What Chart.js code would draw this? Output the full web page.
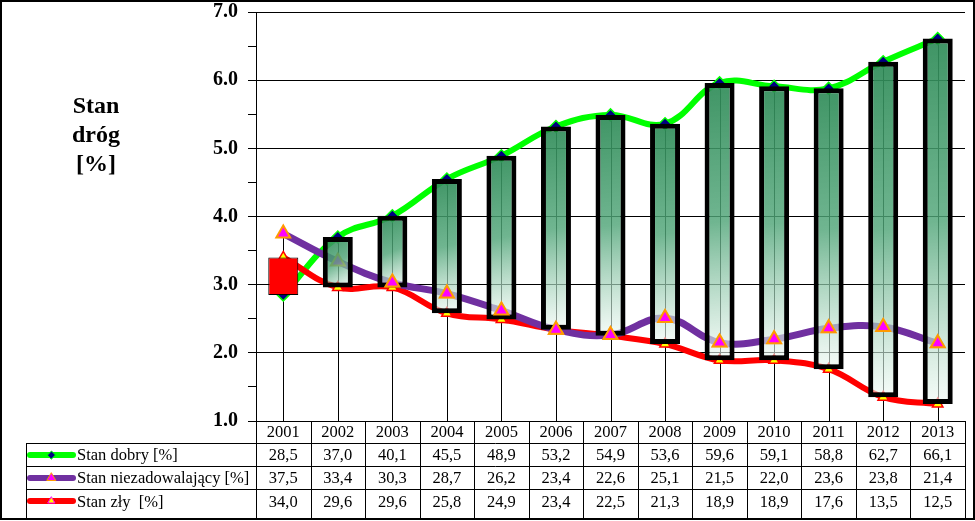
<!DOCTYPE html>
<html>
<head>
<meta charset="utf-8">
<script src="https://cdn.jsdelivr.net/npm/chart.js@4"></script>
<style>
  body { margin: 0; background: #fff; }
  canvas { display: block; }
</style>
</head>
<body>
<canvas id="roadChart" width="975" height="521"></canvas>
<script>
const years = ['2001','2002','2003','2004','2005','2006','2007','2008','2009','2010','2011','2012','2013']
const dobry = [28.5,37.0,40.1,45.5,48.9,53.2,54.9,53.6,59.6,59.1,58.8,62.7,66.1]
const niezad = [37.5,33.4,30.3,28.7,26.2,23.4,22.6,25.1,21.5,22.0,23.6,23.8,21.4]
const zly = [34.0,29.6,29.6,25.8,24.9,23.4,22.5,21.3,18.9,18.9,17.6,13.5,12.5]
const seriesNames = ['Stan dobry [%]', 'Stan niezadowalający [%]', 'Stan zły  [%]']

const serif = '"Liberation Serif", "Times New Roman", serif'
const toAxis = v => v / 10
const fmt = v => v.toFixed(1).replace('.', ',')

// high-low lines from the top point down to the axis
const dropLines = {
    id: 'dropLines',
    beforeDatasetsDraw(chart) {
        const {ctx, scales: {x, y}, chartArea} = chart
        ctx.save()
        ctx.strokeStyle = '#000'
        ctx.lineWidth = 1
        years.forEach((yr, i) => {
            const top = Math.max(dobry[i], niezad[i], zly[i])
            const px = Math.round(x.getPixelForValue(i)) + 0.5
            ctx.beginPath()
            ctx.moveTo(px, y.getPixelForValue(toAxis(top)))
            ctx.lineTo(px, chartArea.bottom)
            ctx.stroke()
        })
        ctx.restore()
    }
}

// purple triangles show through the pale lower part of the bars
const pointsOnTop = {
    id: 'pointsOnTop',
    afterDatasetsDraw(chart) {
        const {ctx, chartArea} = chart
        const y = chart.scales.y
        chart.getDatasetMeta(2).data.forEach((pt, i) => {
            const top = y.getPixelForValue(toAxis(dobry[i]))
            const bot = y.getPixelForValue(toAxis(zly[i]))
            if (pt.y > top + (bot - top) * 0.7) pt.draw(ctx, chartArea)
        })
    }
}

function drawKey(ctx, x, y, color, style, fill, stroke, r) {
    ctx.save()
    ctx.strokeStyle = color
    ctx.lineWidth = 6
    ctx.lineCap = 'round'
    ctx.beginPath()
    ctx.moveTo(x, y)
    ctx.lineTo(x + 43, y)
    ctx.stroke()
    ctx.fillStyle = fill
    ctx.strokeStyle = stroke
    ctx.lineWidth = 1
    Chart.helpers.drawPoint(ctx, {pointStyle: style, radius: r, borderWidth: 1, rotation: 0},
        x + 21.5, y)
    ctx.restore()
}

// data table, y title and frame
const dataTable = {
    id: 'dataTable',
    afterDraw(chart) {
        const {ctx, scales: {x}, chartArea} = chart
        const left = chartArea.left, right = chartArea.right
        const colW = (right - left) / years.length
        const tblLeft = 26
        const rows = [chartArea.bottom, 443, 466, 488.5, 518]
        ctx.save()
        ctx.strokeStyle = '#000'
        ctx.lineWidth = 1
        ctx.beginPath()
        for (let i = 0; i <= years.length; i++) {
            const px = Math.round(left + i * colW) + 0.5
            ctx.moveTo(px, chartArea.bottom)
            ctx.lineTo(px, rows[4])
        }
        ctx.moveTo(tblLeft + 0.5, rows[1])
        ctx.lineTo(tblLeft + 0.5, rows[4])
        for (let r = 1; r < rows.length; r++) {
            ctx.moveTo(tblLeft, Math.round(rows[r]) + 0.5)
            ctx.lineTo(right, Math.round(rows[r]) + 0.5)
        }
        ctx.stroke()

        ctx.fillStyle = '#000'
        ctx.font = '16.5px ' + serif
        ctx.textAlign = 'center'
        ctx.textBaseline = 'middle'
        years.forEach((yr, i) => {
            const cx = x.getPixelForValue(i)
            ctx.fillText(yr, cx, 433)
            ctx.fillText(fmt(dobry[i]), cx, 456)
            ctx.fillText(fmt(niezad[i]), cx, 479)
            ctx.fillText(fmt(zly[i]), cx, 503)
        })
        ctx.textAlign = 'left'
        ctx.fillText(seriesNames[0], 77, 456)
        ctx.fillText(seriesNames[1], 77, 479)
        ctx.fillText(seriesNames[2], 77, 503)
        drawKey(ctx, 30, 455, '#00FF00', 'rectRot', '#000080', '#00FF00', 4)
        drawKey(ctx, 30, 478, '#7030A0', 'triangle', '#FF00FF', '#FF9900', 5)
        drawKey(ctx, 30, 501, '#FF0000', 'triangle', '#FFFF00', '#FF00FF', 4)

        ctx.font = 'bold 24px ' + serif
        ctx.textAlign = 'center'
        ctx.fillText('Stan', 96, 107)
        ctx.fillText('dróg', 96, 136)
        ctx.fillText('[%]', 96, 165)

        ctx.lineWidth = 2
        ctx.strokeRect(1, 1, 973, 518)
        ctx.restore()
    }
}

function barFill(c) {
    const i = c.dataIndex
    if (dobry[i] < zly[i]) return '#FF0000'
    const chart = c.chart
    if (!chart.chartArea) return 'rgba(46,139,87,0.8)'
    const {x, y} = chart.scales
    const top = y.getPixelForValue(toAxis(dobry[i]))
    const bot = y.getPixelForValue(toAxis(zly[i]))
    const cx = x.getPixelForValue(i)
    const g = chart.ctx.createLinearGradient(cx - 15, top, cx + 15, bot)
    g.addColorStop(0, 'rgba(46,139,87,0.92)')
    g.addColorStop(0.5, 'rgba(80,165,120,0.82)')
    g.addColorStop(1, 'rgba(240,250,245,0.6)')
    return g
}

const ctx = document.getElementById('roadChart')
new Chart(ctx, {
    type: 'bar',
    data: {
        labels: years,
        datasets: [
            {
                type: 'bar',
                label: 'updown',
                data: years.map((yr, i) => [toAxis(zly[i]), toAxis(dobry[i])]),
                backgroundColor: barFill,
                borderColor: '#000',
                borderWidth: c => (dobry[c.dataIndex] < zly[c.dataIndex] ? 1 : 5),
                borderSkipped: false,
                barPercentage: 0.55,
                categoryPercentage: 1,
                order: 0
            },
            {
                type: 'line',
                label: seriesNames[0],
                data: dobry.map(toAxis),
                borderColor: '#00FF00',
                borderWidth: 6,
                tension: 0.4,
                pointStyle: 'rectRot',
                pointRadius: 6,
                pointBackgroundColor: '#000080',
                pointBorderColor: '#00FF00',
                pointBorderWidth: 1.5,
                order: 3
            },
            {
                type: 'line',
                label: seriesNames[1],
                data: niezad.map(toAxis),
                borderColor: '#7030A0',
                borderWidth: 7,
                tension: 0.4,
                pointStyle: 'triangle',
                pointRadius: 8,
                pointBackgroundColor: '#FF00FF',
                pointBorderColor: '#FF9900',
                pointBorderWidth: 2,
                order: 1
            },
            {
                type: 'line',
                label: seriesNames[2],
                data: zly.map(toAxis),
                borderColor: '#FF0000',
                borderWidth: 6,
                tension: 0.4,
                pointStyle: 'triangle',
                pointRadius: 6,
                pointBackgroundColor: '#FFFF00',
                pointBorderColor: '#FF0000',
                pointBorderWidth: 1.5,
                order: 2
            }
        ]
    },
    options: {
        responsive: false,
        animation: false,
        devicePixelRatio: 1,
        layout: { padding: { left: 0, top: 12, right: 3, bottom: 100 } },
        plugins: {
            legend: { display: false },
            tooltip: { enabled: false }
        },
        scales: {
            x: { display: false, offset: true },
            y: {
                min: 1,
                max: 7,
                afterFit: scale => {
                    scale.width = 256
                    scale.paddingTop = 0
                    scale.paddingBottom = 0
                },
                border: { display: true, color: '#000', width: 1 },
                grid: {
                    color: c => (Number.isInteger(c.tick.value) ? '#000' : 'rgba(0,0,0,0)'),
                    tickColor: '#000',
                    tickLength: 8,
                    lineWidth: 1
                },
                ticks: {
                    stepSize: 0.5,
                    padding: 10,
                    color: '#000',
                    font: { family: serif, size: 20, weight: 'bold' },
                    callback: v => (Number.isInteger(v) ? v.toFixed(1) : '')
                }
            }
        }
    },
    plugins: [dropLines, pointsOnTop, dataTable]
})
</script>
</body>
</html>
